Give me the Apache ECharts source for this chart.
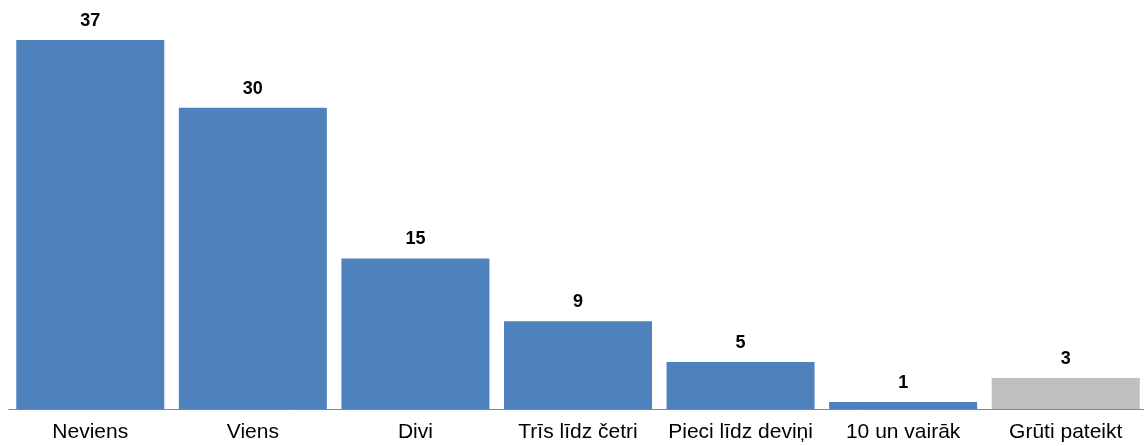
<!DOCTYPE html>
<html>
<head>
<meta charset="utf-8">
<script src="https://cdn.jsdelivr.net/npm/echarts@6/dist/echarts.min.js"></script>
<style>
  html, body { margin: 0; padding: 0; background: #fff; overflow: hidden; }
  #chart { width: 1150px; height: 446px; }
</style>
</head>
<body>
<div id="chart"></div>
<script>
const categories = ['Neviens', 'Viens', 'Divi', 'Trīs līdz četri', 'Pieci līdz deviņi', '10 un vairāk', 'Grūti pateikt'];
// bar heights; labels show them rounded
const values = [37, 30.2, 15.1, 8.8, 4.7, 0.7, 3.1];
const barColors = ['#4f81bd', '#4f81bd', '#4f81bd', '#4f81bd', '#4f81bd', '#4f81bd', '#bfbfbf'];

const chart = echarts.init(document.getElementById('chart'));

chart.setOption({
  animation: false,
  grid: { left: 9, right: 3, top: 10, bottom: 37, containLabel: false },
  xAxis: {
    type: 'category',
    data: categories,
    axisLine: { lineStyle: { color: '#868686', width: 1 } },
    axisTick: { show: false },
    axisLabel: {
      color: '#000',
      fontFamily: 'Liberation Sans, Arial, sans-serif',
      fontSize: 21,
      margin: 13,
      interval: 0
    }
  },
  yAxis: {
    type: 'value',
    min: 0,
    max: 40,
    show: false,
    splitLine: { show: false }
  },
  series: [
    {
      type: 'bar',
      data: values.map((v, i) => ({ value: v, itemStyle: { color: barColors[i] } })),
      barWidth: 148,
      label: {
        show: true,
        position: 'top',
        distance: 10,
        color: '#000',
        fontWeight: 'bold',
        fontSize: 18,
        fontFamily: 'Liberation Sans, Arial, sans-serif',
        formatter: p => Math.round(p.value)
      }
    }
  ]
});
</script>
</body>
</html>
